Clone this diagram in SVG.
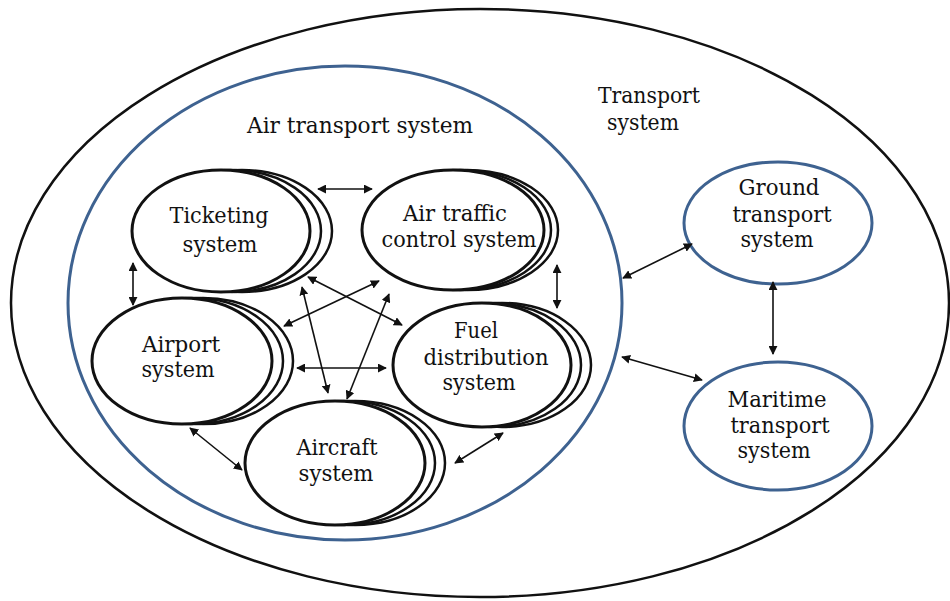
<svg xmlns="http://www.w3.org/2000/svg" width="950" height="601" viewBox="0 0 950 601">
<defs>
<style>
.outer{fill:none;stroke:#111;stroke-width:2.5}
.blue{fill:#fff;stroke:#3e6290;stroke-width:3}
.node{fill:#fff;stroke:#111;stroke-width:3}
.back{fill:#fff;stroke:#111;stroke-width:2.5}
.conn{stroke:#111;stroke-width:1.6;fill:none;marker-start:url(#ah);marker-end:url(#ah)}
.lbl{font-family:'DejaVu Serif','Liberation Serif',serif;font-size:22px;fill:#111;text-anchor:middle}
</style>
<marker id="ah" viewBox="0 0 10 10" refX="9" refY="5" markerWidth="9" markerHeight="9" markerUnits="userSpaceOnUse" orient="auto-start-reverse">
<path d="M0,0 L10,5 L0,10 z" fill="#111"/>
</marker>
</defs>
<rect width="950" height="601" fill="#fff"/>
<g id="transport-system">
<ellipse class="outer" cx="480" cy="303" rx="469" ry="294"/>
<text class="lbl" x="649" y="103" textLength="102" lengthAdjust="spacingAndGlyphs">Transport</text>
<text class="lbl" x="643" y="130" textLength="72" lengthAdjust="spacingAndGlyphs">system</text>
</g>
<g id="air-transport-system">
<ellipse class="blue" cx="345" cy="303" rx="277" ry="237"/>
<text class="lbl" x="360" y="133" textLength="226" lengthAdjust="spacingAndGlyphs">Air transport system</text>
</g>
<g id="ticketing">
<ellipse class="back" cx="242" cy="231" rx="90" ry="61"/>
<ellipse class="back" cx="232" cy="231" rx="89" ry="61"/>
<ellipse class="node" cx="221" cy="231" rx="89" ry="61"/>
<text class="lbl" x="219" y="223" textLength="99" lengthAdjust="spacingAndGlyphs">Ticketing</text>
<text class="lbl" x="220" y="252" textLength="75" lengthAdjust="spacingAndGlyphs">system</text>
</g>
<g id="air-traffic-control">
<ellipse class="back" cx="467" cy="230" rx="91" ry="60"/>
<ellipse class="back" cx="460" cy="230" rx="91" ry="60"/>
<ellipse class="node" cx="453" cy="230" rx="91" ry="60"/>
<text class="lbl" x="455" y="221" textLength="104" lengthAdjust="spacingAndGlyphs">Air traffic</text>
<text class="lbl" x="459" y="247" textLength="155" lengthAdjust="spacingAndGlyphs">control system</text>
</g>
<g id="airport">
<ellipse class="back" cx="203" cy="361" rx="90" ry="63"/>
<ellipse class="back" cx="193" cy="361" rx="90" ry="63"/>
<ellipse class="node" cx="182" cy="361" rx="90" ry="63"/>
<text class="lbl" x="181" y="352" textLength="78" lengthAdjust="spacingAndGlyphs">Airport</text>
<text class="lbl" x="178" y="377" textLength="73" lengthAdjust="spacingAndGlyphs">system</text>
</g>
<g id="fuel-distribution">
<ellipse class="back" cx="502" cy="365" rx="89" ry="62"/>
<ellipse class="back" cx="492" cy="365" rx="89" ry="62"/>
<ellipse class="node" cx="482" cy="365" rx="89" ry="62"/>
<text class="lbl" x="476" y="338" textLength="44" lengthAdjust="spacingAndGlyphs">Fuel</text>
<text class="lbl" x="486" y="365" textLength="125" lengthAdjust="spacingAndGlyphs">distribution</text>
<text class="lbl" x="479" y="390" textLength="73" lengthAdjust="spacingAndGlyphs">system</text>
</g>
<g id="aircraft">
<ellipse class="back" cx="355" cy="463" rx="90" ry="62"/>
<ellipse class="back" cx="345" cy="463" rx="90" ry="62"/>
<ellipse class="node" cx="335" cy="463" rx="90" ry="62"/>
<text class="lbl" x="337" y="455" textLength="81" lengthAdjust="spacingAndGlyphs">Aircraft</text>
<text class="lbl" x="336" y="481" textLength="75" lengthAdjust="spacingAndGlyphs">system</text>
</g>
<g id="ground-transport">
<ellipse class="blue" cx="778" cy="223" rx="94" ry="61"/>
<text class="lbl" x="779" y="195" textLength="81" lengthAdjust="spacingAndGlyphs">Ground</text>
<text class="lbl" x="782" y="222" textLength="99" lengthAdjust="spacingAndGlyphs">transport</text>
<text class="lbl" x="777" y="247" textLength="73" lengthAdjust="spacingAndGlyphs">system</text>
</g>
<g id="maritime-transport">
<ellipse class="blue" cx="778" cy="426" rx="94" ry="64"/>
<text class="lbl" x="777" y="407" textLength="99" lengthAdjust="spacingAndGlyphs">Maritime</text>
<text class="lbl" x="780" y="433" textLength="99" lengthAdjust="spacingAndGlyphs">transport</text>
<text class="lbl" x="774" y="458" textLength="73" lengthAdjust="spacingAndGlyphs">system</text>
</g>
<g id="connectors">
<line class="conn" x1="318" y1="189" x2="372" y2="189"/>
<line class="conn" x1="133" y1="263" x2="133" y2="305"/>
<line class="conn" x1="557" y1="265" x2="557" y2="308"/>
<line class="conn" x1="308" y1="277" x2="402" y2="325"/>
<line class="conn" x1="379" y1="281" x2="284" y2="326"/>
<line class="conn" x1="302" y1="287" x2="328" y2="393"/>
<line class="conn" x1="389" y1="294" x2="347" y2="399"/>
<line class="conn" x1="297" y1="368" x2="386" y2="368"/>
<line class="conn" x1="190" y1="428" x2="242" y2="470"/>
<line class="conn" x1="503" y1="433" x2="455" y2="463"/>
<line class="conn" x1="623" y1="278" x2="692" y2="244"/>
<line class="conn" x1="622" y1="357" x2="702" y2="380"/>
<line class="conn" x1="773" y1="282" x2="773" y2="354"/>
</g>
</svg>
